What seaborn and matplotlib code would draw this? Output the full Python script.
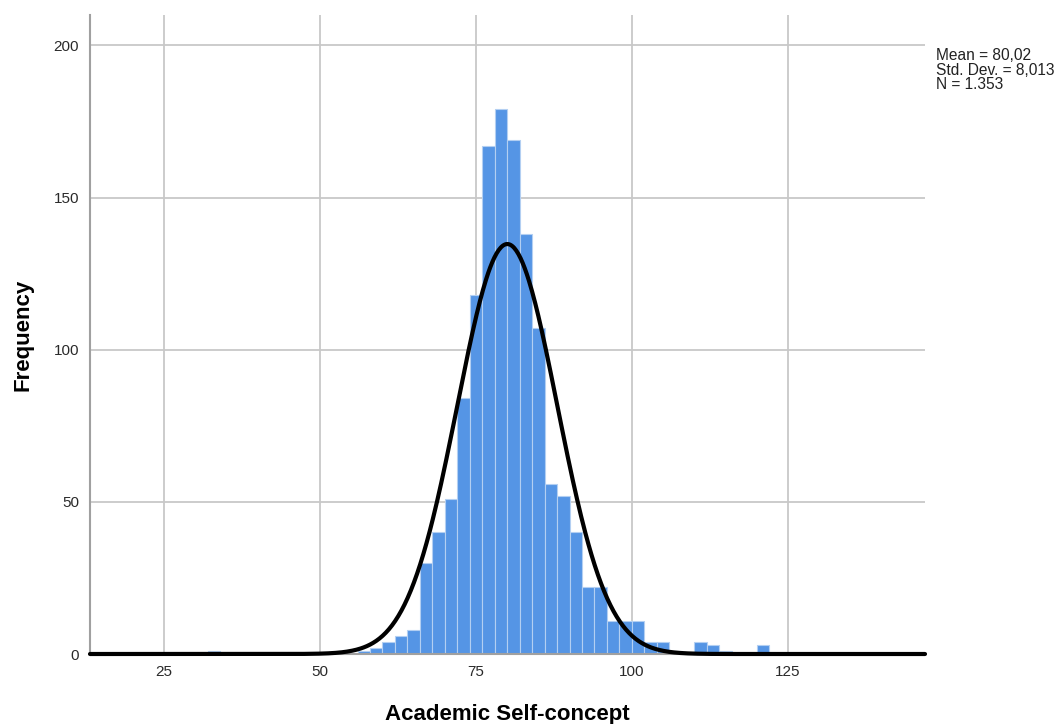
import numpy as np
import pandas as pd
import matplotlib
matplotlib.use("Agg")
import matplotlib.pyplot as plt
import seaborn as sns

# Histogram data (bin left edges, width 2) and counts
bin_left = [32, 56, 58, 60, 62, 64, 66, 68, 70, 72, 74, 76, 78, 80, 82, 84, 86,
            88, 90, 92, 94, 96, 98, 100, 102, 104, 106, 110, 112, 114, 120]
counts = [1, 1, 2, 4, 6, 8, 30, 40, 51, 84, 118, 167, 179, 169, 138, 107, 56,
          52, 40, 22, 22, 11, 11, 11, 4, 4, 1, 4, 3, 1, 3]
bin_width = 2

# Summary statistics shown on chart
mean_val = 80.02
std_val = 8.013
n_val = 1353
stats_lines = ["Mean = 80,02", "Std. Dev. = 8,013", "N = 1.353"]

x_ticks = [25, 50, 75, 100, 125]
y_ticks = [0, 50, 100, 150, 200]

sns.set_theme(style="white")
plt.rcParams['font.family'] = ['Liberation Sans', 'DejaVu Sans']

fig = plt.figure(figsize=(10.6, 7.24), dpi=100)
ax = fig.add_axes([90/1060, 1-654/724, (925-90)/1060, (654-15)/724])

df = pd.DataFrame({"val": np.array(bin_left, dtype=float) + bin_width/2,
                   "cnt": np.array(counts, dtype=float)})
edges = [float(e) for e in range(12, 150, bin_width)]
sns.histplot(data=df, x="val", weights="cnt", bins=edges, ax=ax,
             color="#5595e5", alpha=1.0, edgecolor="#b3cff2", linewidth=0.8,
             zorder=2)

xlim = (13.1, 147.0)
xs = np.linspace(xlim[0], xlim[1], 800)
ys = n_val * bin_width * np.exp(-0.5 * ((xs - mean_val) / std_val) ** 2) / (std_val * np.sqrt(2 * np.pi))
sns.lineplot(x=xs, y=ys, ax=ax, color="black", linewidth=3.0, zorder=3,
             clip_on=False)

ax.set_xlim(*xlim)
ax.set_ylim(0, 210)
ax.set_xticks(x_ticks)
ax.set_yticks(y_ticks)
ax.grid(True, color="#c8c8c8", linewidth=1.3, zorder=0)
ax.set_axisbelow(True)
ax.tick_params(axis="both", length=0, labelsize=11, colors="#2a2a2a", pad=8)

for s in ["top", "right"]:
    ax.spines[s].set_visible(False)
ax.spines["left"].set_color("#a0a0a0")
ax.spines["left"].set_linewidth(1.5)
ax.spines["bottom"].set_color("#a0a0a0")
ax.spines["bottom"].set_linewidth(1.5)

ax.set_xlabel("Academic Self-concept", fontsize=16, fontweight="bold",
              labelpad=18, color="black")
ax.set_ylabel("Frequency", fontsize=16, fontweight="bold", labelpad=14,
              color="black")

fig.text(936/1060, 1-48/724, "\n".join(stats_lines), fontsize=11.2,
         va="top", ha="left", color="#222222", linespacing=0.97)

fig.savefig("out.png", dpi=100)
